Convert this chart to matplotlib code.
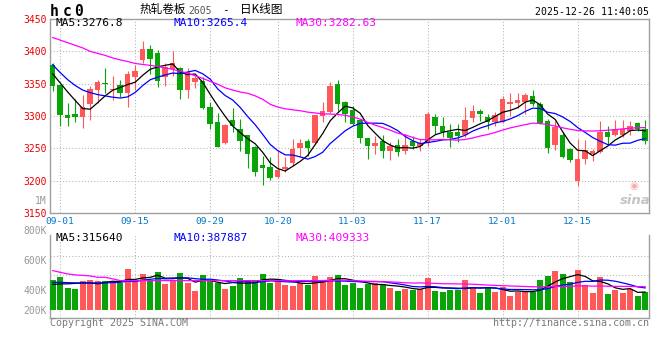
import numpy as np
import pandas as pd
import matplotlib
matplotlib.use("Agg")
import matplotlib.pyplot as plt

plt.rcParams['font.family'] = ['DejaVu Sans Mono', 'Noto Sans CJK SC']

# hc0 daily bars, 2025-08-29 .. 2025-12-26
opens = [3378, 3347.5, 3301.5, 3303, 3299, 3319, 3340, 3350.5, 3340, 3347.5,
         3335, 3360, 3386, 3404, 3397, 3360, 3373, 3374.5, 3340, 3353,
         3354, 3314, 3291, 3259, 3294, 3280, 3270, 3252, 3224, 3222,
         3206, 3218, 3228, 3250, 3262, 3258, 3300, 3306, 3350, 3321,
         3310, 3294, 3266, 3253, 3261, 3246, 3255, 3246, 3262, 3253,
         3258, 3299, 3285, 3275, 3276, 3270, 3297, 3308, 3299, 3291,
         3290, 3318, 3320, 3322, 3331, 3318, 3292, 3255, 3270, 3249.5,
         3199.5, 3233, 3242, 3244, 3275, 3270, 3271.4, 3277.6, 3288.8, 3280]
highs = [3381, 3348, 3320, 3326, 3332, 3346, 3355, 3373.5, 3361, 3355,
         3369, 3378, 3416, 3410, 3401, 3381, 3399.5, 3375.5, 3373.5, 3362,
         3360, 3322, 3304, 3287, 3313, 3295, 3271, 3253, 3238, 3237,
         3246, 3237, 3264, 3264, 3264, 3301, 3322, 3352, 3355, 3323,
         3316, 3296, 3266, 3269, 3270, 3260, 3264, 3273, 3269, 3264,
         3306, 3303, 3298, 3288, 3287, 3314, 3317, 3311, 3303, 3306,
         3331, 3335, 3335, 3335, 3340, 3321, 3295, 3293, 3276, 3250,
         3265, 3263, 3249.5, 3293, 3285, 3294, 3294, 3293, 3290, 3294]
lows = [3339, 3284, 3285, 3291, 3282, 3294, 3320, 3336, 3324, 3330,
        3314, 3340, 3381, 3365, 3345, 3346, 3362, 3326, 3327, 3343,
        3311, 3280, 3252, 3257, 3276, 3246, 3220, 3207, 3193, 3201,
        3205, 3214, 3223, 3237, 3238, 3258, 3290, 3304, 3307, 3290,
        3286, 3259, 3233, 3242, 3235, 3232, 3238, 3241, 3249, 3246,
        3253, 3272, 3268, 3252, 3260, 3267, 3290, 3293, 3280, 3284,
        3289, 3300, 3313, 3303, 3316, 3287, 3243, 3247, 3236, 3229,
        3192, 3226.5, 3230, 3242.6, 3254.6, 3268.4, 3267, 3270, 3277.6, 3257]
closes = [3346, 3301.5, 3297, 3299, 3314, 3341, 3352, 3349.5, 3342, 3335,
          3364, 3370, 3403, 3388, 3354, 3375.5, 3381, 3340, 3368, 3359,
          3312, 3288, 3252, 3286, 3285, 3261, 3241, 3213, 3220, 3204,
          3217, 3222, 3249, 3258, 3250, 3301, 3307, 3347, 3318, 3303,
          3287, 3266, 3253, 3258, 3246, 3253, 3244, 3256, 3253, 3259,
          3303, 3284, 3275, 3266, 3269, 3294, 3308, 3303, 3290, 3302,
          3326, 3322, 3324.5, 3332, 3319, 3289, 3250.5, 3283, 3237, 3232,
          3233, 3247, 3245.5, 3275, 3267.3, 3280, 3280, 3285, 3280, 3260.7]
volumes = [526, 579, 387, 369, 509, 526, 509, 509, 469, 479,
           719, 509, 631, 526, 666, 456, 526, 649, 479, 334,
           614, 526, 479, 369, 422, 561, 526, 509, 631, 479,
           544, 439, 422, 479, 439, 602, 509, 579, 614, 439,
           479, 387, 456, 479, 439, 392, 334, 369, 352, 369,
           561, 334, 317, 352, 352, 526, 404, 299, 387, 317,
           404, 247, 317, 334, 317, 526, 596, 684, 631, 491,
           701, 439, 299, 579, 282, 352, 304, 364, 247, 311]  # thousand lots

ma5_head = [3365, 3351, 3337, 3324]
ma10_head = [3379, 3367, 3356, 3347, 3340, 3336, 3333, 3331, 3329]
ma30_head = [3421, 3417, 3413, 3409, 3405, 3399.5, 3396.5, 3393.4, 3389.5, 3386.5,
             3384, 3381, 3379.5, 3378, 3376.5, 3374, 3372, 3369, 3366, 3362,
             3358, 3353.4, 3349, 3343.4, 3340, 3337, 3335, 3331, 3325.7]
vma5_head = [450, 458, 460, 468]
vma10_head = [486, 486, 480, 476, 476, 476, 476, 476, 480]
vma30_head = [691, 661, 633, 616, 607, 598, 574, 574, 546, 516,
              516, 516, 516, 516, 516, 516, 516, 515, 515, 515,
              515, 515, 515, 515, 515, 515, 516, 516, 516]

price_ma_text = ["MA5:3276.8", "MA10:3265.4", "MA30:3282.63"]
vol_ma_text = ["MA5:315640", "MA10:387887", "MA30:409333"]
date_labels = ["09-01", "09-15", "09-29", "10-20", "11-03", "11-17", "12-01", "12-15"]
date_index = [1, 11, 21, 30, 40, 50, 60, 70]
price_ticks = [3150, 3200, 3250, 3300, 3350, 3400, 3450]
vol_labels = ["1M", "800K", "600K", "400K", "200K"]

RED = "#ff5858"
GREEN = "#08a408"
MA_COLORS = ["black", "#0000ff", "#ff00ff"]
GRID = dict(color="#b4b4b4", linestyle=(0, (1, 2)), linewidth=0.75)
W, H = 660, 360


def fx(px):
    return px / W


def fy(py):
    return 1 - py / H


def moving(vals, n, head):
    s = pd.Series(vals, dtype=float).rolling(n).mean()
    s.iloc[:n - 1] = head
    return s.values


x = np.arange(len(closes))
o, h, l, c = (np.array(a, dtype=float) for a in (opens, highs, lows, closes))
v = np.array(volumes, dtype=float) * 1000
col = np.where(c >= o, RED, GREEN)

fig = plt.figure(figsize=(6.6, 3.6), dpi=100)
ax = fig.add_axes([fx(50), fy(213.3), fx(599.3), (213.3 - 18.7) / H])
vax = fig.add_axes([fx(50), fy(318.3), fx(599.3), (318.3 - 235) / H])

# price panel
ax.vlines(x, l, h, colors=col, linewidth=0.8, zorder=2)
ax.bar(x, np.maximum(np.abs(c - o), 0.7), bottom=np.minimum(o, c), width=0.72,
       color=col, linewidth=0, zorder=3)
for n, head, mc in zip([5, 10, 30], [ma5_head, ma10_head, ma30_head], MA_COLORS):
    ax.plot(x, moving(closes, n, head), color=mc, linewidth=0.9, zorder=4)

ax.set_xlim(-0.36, 79.55)
ax.set_ylim(3150, 3450)
ax.set_yticks(price_ticks)
ax.set_yticklabels([str(t) for t in price_ticks])
ax.set_xticks(date_index)
ax.set_xticklabels(date_labels)
ax.tick_params(axis="y", length=0, pad=2.4, labelsize=7, labelcolor="#e80000")
ax.tick_params(axis="x", length=0, pad=3, labelsize=6.8, labelcolor="#0078c8")
for t in price_ticks[1:-1]:
    ax.axhline(t, zorder=1, **GRID)
for d in date_index:
    ax.axvline(d, zorder=1, **GRID)
    vax.axvline(d, zorder=1, **GRID)
for s in ax.spines.values():
    s.set_color("#a0a0a0")
    s.set_linewidth(1.0)

for txt, px, mc in zip(price_ma_text, [55, 174, 295], MA_COLORS):
    ax.text(fx(px - 50) / fx(599.3), (213.3 - 23.5) / (213.3 - 18.7), txt,
            transform=ax.transAxes, color=mc, fontsize=8, va="center", ha="left")

# sina watermark
ax.text((634 - 50) / 599.3, (213.3 - 185.5) / 194.6, "\u25c9", transform=ax.transAxes,
        color="#f6b0b0", fontsize=7.5, ha="center", va="center", family="DejaVu Sans")
ax.text((635 - 50) / 599.3, (213.3 - 201) / 194.6, "sina", transform=ax.transAxes,
        color="#c4c4c4", fontsize=9.5, fontweight="bold", style="italic",
        ha="center", va="center", family="DejaVu Sans")

# volume panel
vax.bar(x, v, width=0.76, color=col, linewidth=0, zorder=3)
for n, head, mc in zip([5, 10, 30], [vma5_head, vma10_head, vma30_head], MA_COLORS):
    vax.plot(x, moving(volumes, n, head) * 1000, color=mc, linewidth=0.9, zorder=4)
vax.set_xlim(-0.36, 79.55)
vax.set_ylim(-143.4e3, 1313.5e3)
vax.set_xticks([])
vax.set_yticks([])
for f in ((318.3 - 275) / 83.3, (318.3 - 255.7) / 83.3):
    vax.plot([0, 1], [f, f], transform=vax.transAxes, zorder=1, **GRID)
vax.spines["top"].set_visible(False)
for s in ("left", "right", "bottom"):
    vax.spines[s].set_color("#a0a0a0")
    vax.spines[s].set_linewidth(1.0)

for txt, px, mc in zip(vol_ma_text, [55, 174, 295], MA_COLORS):
    fig.text(fx(px), fy(238.4), txt, color=mc, fontsize=8, va="center", ha="left")

for lab, py in zip(vol_labels, [200.7, 230.7, 260.7, 290.7, 310.7]):
    fig.text(fx(46.7), fy(py), lab, color="#999999", fontsize=7, ha="right", va="center")

# header and footer
for ch, px in zip("hc0", [50, 62.5, 74]):
    fig.text(fx(px), fy(11.5), ch, fontsize=10.5, fontweight="bold", ha="left", va="center")
cjk = ["Noto Sans CJK SC", "DejaVu Sans"]
fig.text(fx(140), fy(9.5), "热轧卷板", fontsize=8.4, family=cjk, ha="left", va="center")
fig.text(fx(188), fy(10.5), "2605", fontsize=7, color="#555555", ha="left", va="center")
fig.text(fx(225), fy(10), "-", fontsize=8, ha="center", va="center")
fig.text(fx(240), fy(9.5), "日K线图", fontsize=8.4, family=cjk, ha="left", va="center")
fig.text(fx(649), fy(12.2), "2025-12-26 11:40:05", fontsize=7.1, ha="right", va="center")
fig.text(fx(50), fy(323.3), "Copyright 2025 SINA.COM", fontsize=7.2, color="#7a7a7a",
         ha="left", va="center")
fig.text(fx(649), fy(323.3), "http://finance.sina.com.cn", fontsize=7.2, color="#7a7a7a",
         ha="right", va="center")

fig.savefig("out.png", dpi=100, facecolor="white")
